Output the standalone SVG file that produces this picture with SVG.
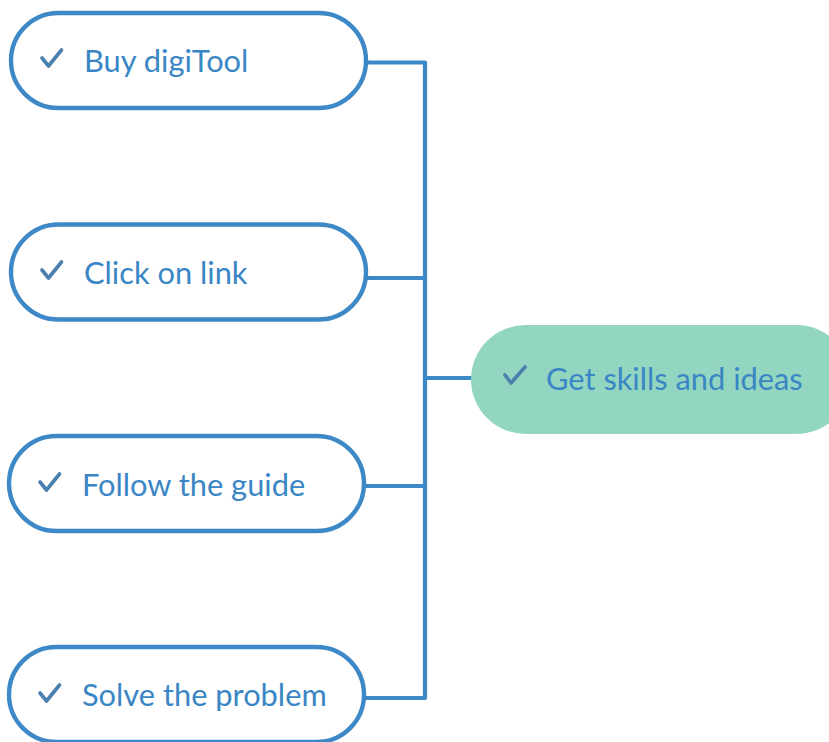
<svg xmlns="http://www.w3.org/2000/svg" width="829" height="742" viewBox="0 0 829 742">
<style>
.box{fill:#fff;stroke:#3d88c6;stroke-width:4.4}
.main{fill:#92d6c1}
.lbl{font-family:"Lato","Liberation Sans",sans-serif;font-size:30.8px;fill:#3a86c4}
.chk{fill:none;stroke:#4a7fae;stroke-width:3.6;stroke-linecap:round;stroke-linejoin:round}
.con{fill:none;stroke:#3d88c6;stroke-width:4.2;stroke-linejoin:round}
</style>
<rect width="829" height="742" fill="#fff"/>
<g id="connectors">
<path class="con" d="M366 62.5H425V698H366M366 278H425M366 486H425M425 378H473"/>
</g>
<g id="node1">
<rect class="box" x="11" y="13" width="355" height="95" rx="47.5"/>
<path class="chk" d="M42 58L48.5 66L61.5 50"/>
<text class="lbl" x="84" y="72">Buy digiTool</text>
</g>
<g id="node2">
<rect class="box" x="11" y="224.5" width="355" height="95" rx="47.5"/>
<path class="chk" d="M42 270L48.5 278L61.5 262"/>
<text class="lbl" x="84" y="284">Click on link</text>
</g>
<g id="node3">
<rect class="box" x="9" y="436" width="355" height="95" rx="47.5"/>
<path class="chk" d="M40 482L46.5 490L59.5 474"/>
<text class="lbl" x="82" y="496">Follow the guide</text>
</g>
<g id="node4">
<rect class="box" x="9" y="647" width="355" height="95" rx="47.5"/>
<path class="chk" d="M40 693L46.5 701L59.5 685"/>
<text class="lbl" x="82" y="706">Solve the problem</text>
</g>
<g id="node5">
<rect class="main" x="471" y="325" width="380" height="109" rx="54.5"/>
<path class="chk" d="M505 375L511 383L525 367"/>
<text class="lbl" x="546" y="390">Get skills and ideas</text>
</g>
</svg>
